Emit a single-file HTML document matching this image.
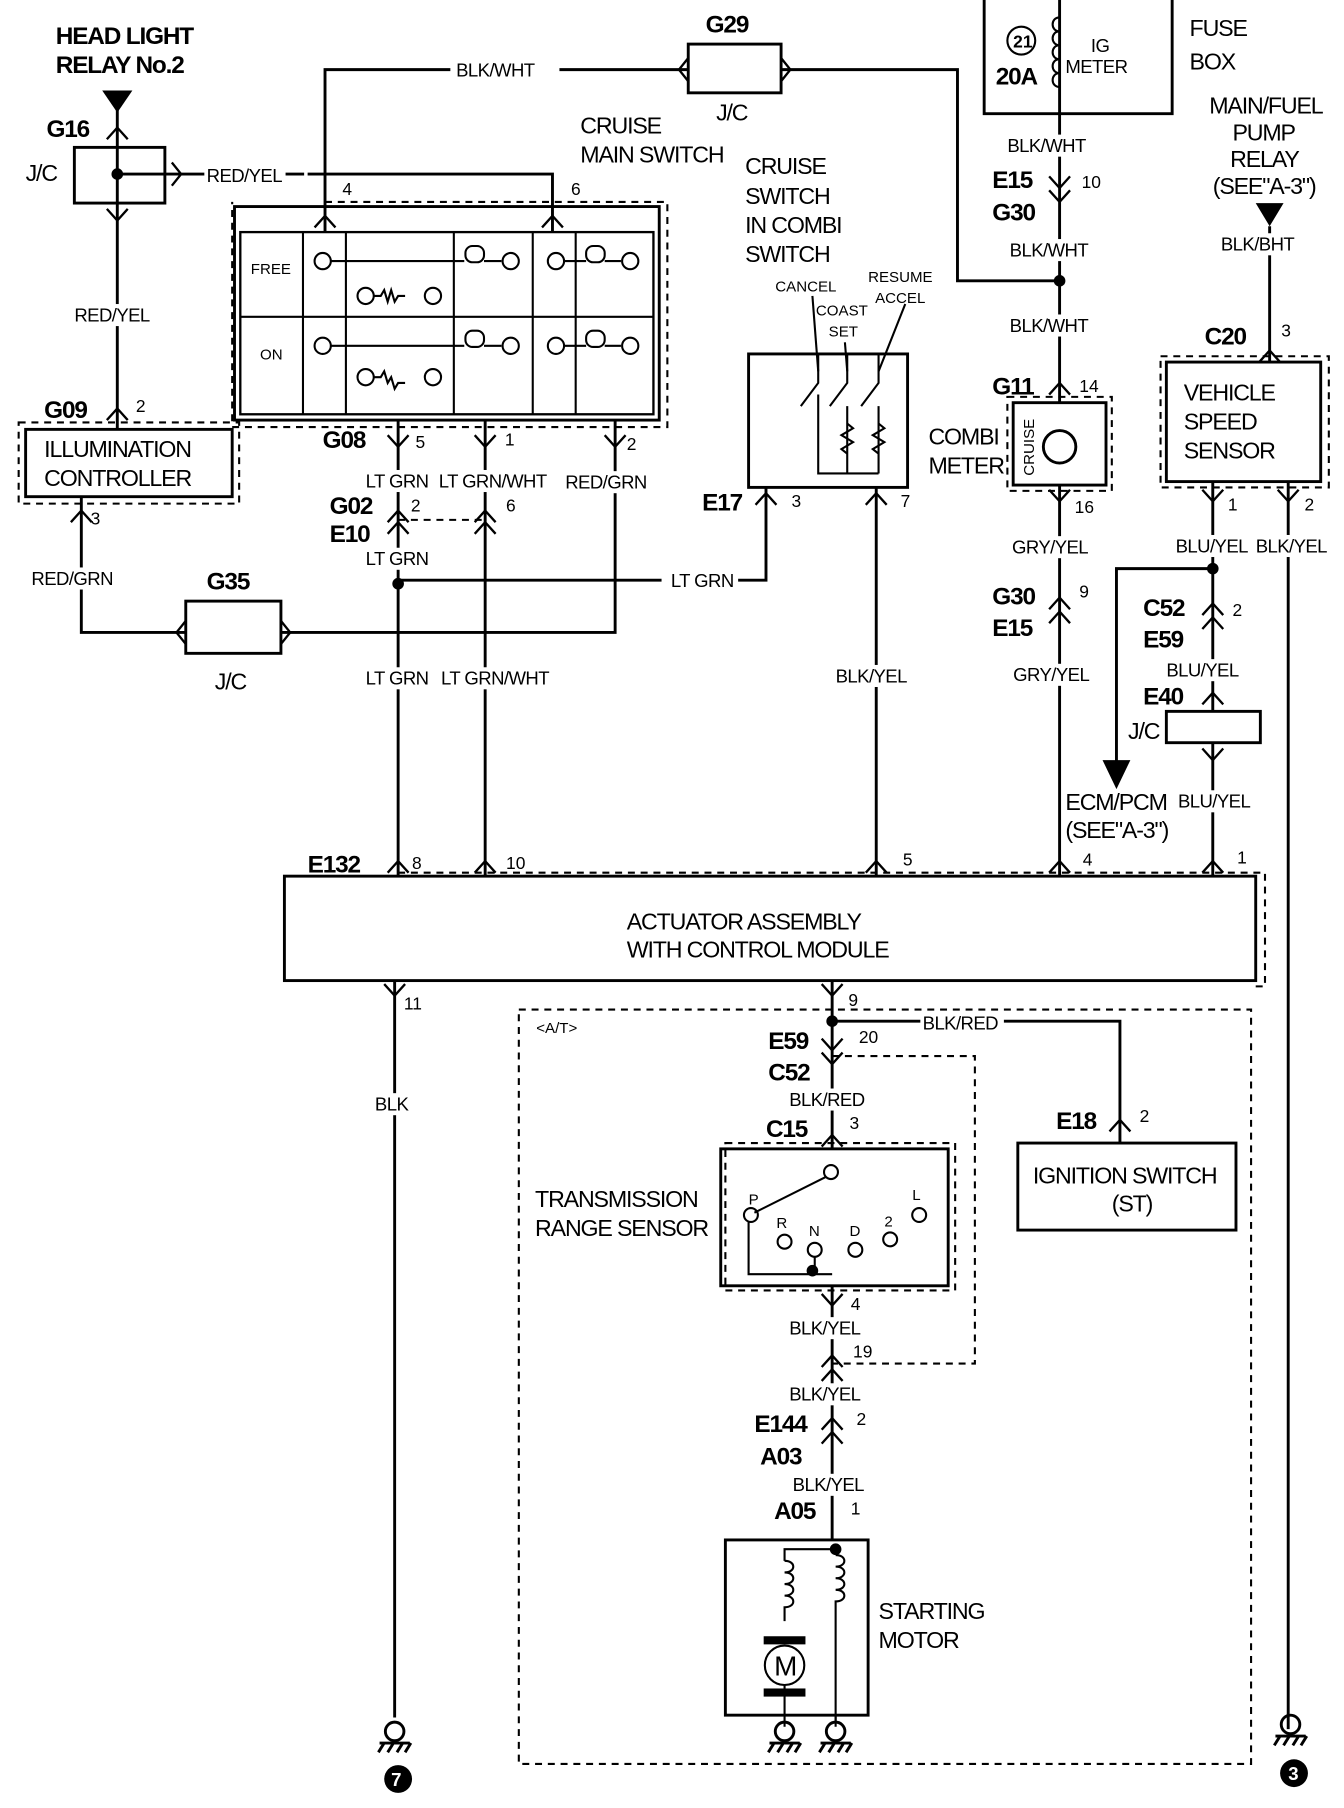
<!DOCTYPE html>
<html><head><meta charset="utf-8"><style>
html,body{margin:0;padding:0;background:#fff}
svg{display:block}
text{font-family:"Liberation Sans",sans-serif;fill:#000}
.b{font-weight:700;font-size:21px;letter-spacing:-1px}
.m{font-size:20px;letter-spacing:-1px}
.w{font-size:16px;letter-spacing:-0.5px}
.s{font-size:13px}
.n{font-size:15px}
</style></head><body>
<svg width="1344" height="1808" viewBox="0 0 1158 1558" xmlns="http://www.w3.org/2000/svg">
<defs>
<path id="up" d="M-9,10 L0,0 L9,10" fill="none" stroke="#000" stroke-width="2"/>
<path id="dn" d="M-9,-10 L0,0 L9,-10" fill="none" stroke="#000" stroke-width="2"/>
<g id="gnd" fill="none" stroke="#000" stroke-width="2.5"><circle cx="0" cy="-8" r="8"/><line x1="-13" y1="2" x2="13" y2="2"/><line x1="-9" y1="2" x2="-14" y2="10"/><line x1="-1" y1="2" x2="-6" y2="10"/><line x1="7" y1="2" x2="2" y2="10"/><line x1="14" y1="2" x2="9" y2="10"/></g>
</defs>
<g fill="none" stroke="#000" stroke-width="2.5">
<line x1="101" y1="92" x2="101" y2="370"/>
<rect x="64" y="127" width="78" height="48"/>
<line x1="101" y1="150" x2="262" y2="150"/>
<polyline points="265,150 476,150 476,200"/>
<polyline points="280,200 280,60 388,60"/>
<line x1="482" y1="60" x2="593" y2="60"/>
<rect x="593" y="38" width="80" height="42"/>
<polyline points="673,60 825,60 825,242 913,242"/>
<rect x="202" y="178" width="366" height="184"/>
<rect x="207" y="200" width="356" height="157" stroke-width="2"/>
<line x1="343" y1="362" x2="343" y2="755"/>
<line x1="418" y1="362" x2="418" y2="755"/>
<polyline points="530,362 530,545 242,545"/>
<polyline points="343,500 570,500"/>
<polyline points="636,500 660,500 660,420"/>
<rect x="160" y="518" width="82" height="45"/>
<polyline points="160,545 70,545 70,428"/>
<rect x="22" y="370" width="178" height="58"/>
<rect x="645" y="305" width="137" height="115"/>
<line x1="755" y1="420" x2="755" y2="755"/>
<polyline points="848,0 848,98 1010,98 1010,0"/>
<line x1="913" y1="0" x2="913" y2="755"/>
<rect x="873" y="347" width="80" height="71" fill="#fff"/>
<circle cx="913" cy="385" r="14"/>
<polyline points="962,660 962,490 1045,490"/>
<line x1="1045" y1="415" x2="1045" y2="755"/>
<line x1="1110" y1="415" x2="1110" y2="1490"/>
<line x1="1094" y1="195" x2="1094" y2="312"/>
<rect x="1005" y="312" width="133" height="103"/>
<rect x="1005" y="613" width="81" height="27" fill="#fff"/>
<rect x="245" y="755" width="837" height="90"/>
<line x1="340" y1="845" x2="340" y2="1480"/>
<line x1="717" y1="845" x2="717" y2="990"/>
<polyline points="717,880 965,880 965,985"/>
<rect x="877" y="985" width="188" height="75"/>
<rect x="621" y="990" width="196" height="118"/>
<line x1="717" y1="1108" x2="717" y2="1327"/>
<rect x="625" y="1327" width="123" height="151"/>
</g>
<g fill="none" stroke="#000" stroke-width="1.8" stroke-dasharray="6,5">
<polyline points="280,174 575,174 575,368 200,368 200,174"/>
<rect x="16" y="364" width="190" height="70"/>
<line x1="343" y1="448" x2="418" y2="448"/>
<rect x="868" y="342" width="90" height="81"/>
<rect x="1000" y="307" width="145" height="113"/>
<polyline points="343,752 1090,752 1090,850 1082,850"/>
<rect x="447" y="870" width="631" height="650"/>
<polyline points="717,910 840,910 840,1175 717,1175"/>
<rect x="625" y="985" width="198" height="127"/>
</g>
<g fill="#000">
<polygon points="88,78 114,78 101,97"/>
<polygon points="1082,175 1106,175 1094,195"/>
<polygon points="950,655 974,655 962,680"/>
<circle cx="101" cy="150" r="5"/>
<circle cx="913" cy="242" r="5"/>
<circle cx="343" cy="503" r="5"/>
<circle cx="1045" cy="490" r="5"/>
<circle cx="717" cy="880" r="5"/>
<circle cx="700" cy="1095" r="5"/>
<circle cx="720" cy="1335" r="5"/>
<circle cx="343" cy="1533" r="12"/>
<circle cx="1115" cy="1528" r="12"/>
</g>
<use href="#up" x="101" y="110"/><use href="#dn" x="101" y="190"/>
<use href="#up" x="280" y="186"/><use href="#up" x="476" y="186"/>
<use href="#up" x="101" y="352"/>
<use href="#dn" x="343" y="385"/><use href="#dn" x="418" y="385"/><use href="#dn" x="530" y="385"/>
<use href="#up" x="70" y="440"/>
<use href="#up" x="343" y="440"/><use href="#up" x="343" y="450"/>
<use href="#up" x="418" y="440"/><use href="#up" x="418" y="450"/>
<use href="#up" x="660" y="425"/><use href="#up" x="755" y="425"/>
<use href="#dn" x="913" y="162"/><use href="#dn" x="913" y="174"/>
<use href="#up" x="913" y="330"/><use href="#dn" x="913" y="432"/>
<use href="#up" x="913" y="515"/><use href="#up" x="913" y="527"/>
<use href="#up" x="1094" y="302"/>
<use href="#dn" x="1045" y="432"/><use href="#dn" x="1110" y="432"/>
<use href="#up" x="1045" y="520"/><use href="#up" x="1045" y="532"/>
<use href="#up" x="1045" y="597"/><use href="#dn" x="1045" y="655"/>
<use href="#up" x="343" y="742"/><use href="#up" x="418" y="742"/><use href="#up" x="755" y="742"/><use href="#up" x="913" y="742"/><use href="#up" x="1045" y="742"/>
<use href="#dn" x="340" y="858"/><use href="#dn" x="717" y="858"/>
<use href="#dn" x="717" y="905"/><use href="#dn" x="717" y="917"/>
<use href="#up" x="965" y="965"/><use href="#up" x="717" y="978"/>
<use href="#dn" x="717" y="1125"/>
<use href="#up" x="717" y="1168"/><use href="#up" x="717" y="1180"/>
<use href="#up" x="717" y="1222"/><use href="#up" x="717" y="1234"/>
<path d="M148,140 L156,150 L148,160 M593,50 L585,60 L593,70 M673,50 L681,60 L673,70 M160,535 L152,545 L160,555 M242,535 L250,545 L242,555" fill="none" stroke="#000" stroke-width="2"/>
<g fill="none" stroke="#000" stroke-width="1.8">
<line x1="261" y1="200" x2="261" y2="357"/><line x1="298" y1="200" x2="298" y2="357"/><line x1="391" y1="200" x2="391" y2="357"/><line x1="459" y1="200" x2="459" y2="357"/><line x1="496" y1="200" x2="496" y2="357"/><line x1="207" y1="273" x2="563" y2="273"/>
<circle cx="278" cy="225" r="7"/><line x1="285" y1="225" x2="400" y2="225"/><rect x="401" y="212" width="16" height="14" rx="6"/><line x1="417" y1="225" x2="432" y2="225"/><circle cx="440" cy="225" r="7"/>
<circle cx="479" cy="225" r="7"/><line x1="486" y1="225" x2="505" y2="225"/><rect x="505" y="212" width="16" height="14" rx="6"/><line x1="521" y1="225" x2="535" y2="225"/><circle cx="543" cy="225" r="7"/>
<circle cx="315" cy="255" r="7"/><path d="M322,255 h6 l3,-5 l3,10 l3,-10 l3,10 l3,-5 h6"/><circle cx="373" cy="255" r="7"/>
<circle cx="278" cy="298" r="7"/><line x1="285" y1="298" x2="400" y2="298"/><rect x="401" y="285" width="16" height="14" rx="6"/><line x1="417" y1="298" x2="432" y2="298"/><circle cx="440" cy="298" r="7"/>
<circle cx="479" cy="298" r="7"/><line x1="486" y1="298" x2="505" y2="298"/><rect x="505" y="285" width="16" height="14" rx="6"/><line x1="521" y1="298" x2="535" y2="298"/><circle cx="543" cy="298" r="7"/>
<circle cx="315" cy="325" r="7"/><path d="M322,325 h6 l3,-5 l3,10 l3,-5 l3,10 l3,-5 h6"/><circle cx="373" cy="325" r="7"/>
<path d="M705,305 v25 l-15,20 M730,305 v25 l-15,20 M757,305 v25 l-15,20"/>
<path d="M705,340 v68 h52 M730,350 v58 M757,350 v58"/>
<path d="M730,365 l5,4 l-10,6 l10,6 l-10,6 l5,4 M757,365 l5,4 l-10,6 l10,6 l-10,6 l5,4"/>
<line x1="700" y1="255" x2="705" y2="320"/><line x1="728" y1="295" x2="730" y2="320"/><line x1="780" y1="262" x2="757" y2="320"/>
<circle cx="880" cy="35" r="12"/>
<path d="M913,15 c-8,0 -8,12 0,12 c-8,0 -8,12 0,12 c-8,0 -8,12 0,12 c-8,0 -8,12 0,12 c-8,0 -8,12 0,12" />
<circle cx="716" cy="1010" r="6"/><line x1="712" y1="1014" x2="650" y2="1045"/>
<circle cx="647" cy="1047" r="6"/><polyline points="645,1053 645,1098 717,1098"/>
<circle cx="676" cy="1070" r="6"/><circle cx="702" cy="1077" r="6"/><line x1="702" y1="1083" x2="702" y2="1095"/><circle cx="737" cy="1077" r="6"/><circle cx="767" cy="1068" r="6"/><circle cx="792" cy="1047" r="6"/>
<polyline points="720,1335 676,1335 676,1345"/>
<path d="M676,1345 c10,0 10,10 0,10 c10,0 10,10 0,10 c10,0 10,10 0,10 c10,0 10,10 0,10 v12"/>
<path d="M720,1340 c10,0 10,10 0,10 c10,0 10,10 0,10 c10,0 10,10 0,10 c10,0 10,10 0,10 v105"/>
<circle cx="676" cy="1435" r="17"/><line x1="676" y1="1452" x2="676" y2="1488"/>
<line x1="720" y1="1478" x2="720" y2="1488"/>
</g>
<rect x="658" y="1410" width="36" height="7" fill="#000"/><rect x="658" y="1455" width="36" height="7" fill="#000"/>
<use href="#gnd" x="340" y="1500"/><use href="#gnd" x="676" y="1500"/><use href="#gnd" x="720" y="1500"/><use href="#gnd" x="1112" y="1494"/>
<g fill="#fff">
<rect x="176" y="142" width="70" height="18"/>
<rect x="62" y="262" width="72" height="19"/>
<rect x="313" y="405" width="58" height="19"/>
<rect x="376" y="405" width="96" height="19"/>
<rect x="485" y="406" width="78" height="19"/>
<rect x="313" y="472" width="58" height="19"/>
<rect x="25" y="489" width="76" height="19"/>
<rect x="313" y="575" width="58" height="19"/>
<rect x="378" y="575" width="96" height="19"/>
<rect x="718" y="573" width="70" height="19"/>
<rect x="866" y="116" width="74" height="19"/>
<rect x="868" y="206" width="74" height="19"/>
<rect x="868" y="271" width="74" height="19"/>
<rect x="870" y="462" width="72" height="19"/>
<rect x="871" y="572" width="72" height="19"/>
<rect x="1050" y="201" width="74" height="19"/>
<rect x="1011" y="461" width="68" height="19"/>
<rect x="1080" y="461" width="70" height="19"/>
<rect x="1003" y="568" width="70" height="19"/>
<rect x="1013" y="681" width="70" height="19"/>
<rect x="793" y="872" width="72" height="19"/>
<rect x="321" y="942" width="36" height="19"/>
<rect x="678" y="938" width="72" height="19"/>
<rect x="678" y="1135" width="70" height="19"/>
<rect x="678" y="1192" width="70" height="19"/>
<rect x="681" y="1270" width="70" height="19"/>
</g>
<text class="b" x="48" y="38">HEAD LIGHT</text><text class="b" x="48" y="63">RELAY No.2</text>
<text class="b" x="40" y="118">G16</text><text class="m" x="22" y="156">J/C</text>
<text class="w" x="178" y="157">RED/YEL</text>
<text class="w" x="393" y="66">BLK/WHT</text>
<text class="b" x="608" y="28">G29</text><text class="m" x="617" y="104">J/C</text>
<text class="m" x="500" y="115">CRUISE</text><text class="m" x="500" y="140">MAIN SWITCH</text>
<text class="n" x="295" y="168">4</text><text class="n" x="492" y="168">6</text>
<text class="s" x="216" y="236">FREE</text><text class="s" x="224" y="310">ON</text>
<text class="w" x="64" y="277">RED/YEL</text>
<text class="b" x="38" y="360">G09</text><text class="n" x="117" y="355">2</text>
<text class="m" x="38" y="394">ILLUMINATION</text><text class="m" x="38" y="419">CONTROLLER</text>
<text class="b" x="278" y="386">G08</text><text class="n" x="358" y="386">5</text><text class="n" x="435" y="384">1</text><text class="n" x="540" y="388">2</text>
<text class="w" x="315" y="420">LT GRN</text><text class="w" x="378" y="420">LT GRN/WHT</text><text class="w" x="487" y="421">RED/GRN</text>
<text class="b" x="284" y="443">G02</text><text class="b" x="284" y="467">E10</text><text class="n" x="354" y="441">2</text><text class="n" x="436" y="441">6</text>
<text class="w" x="315" y="487">LT GRN</text><text class="n" x="78" y="452">3</text>
<text class="w" x="27" y="504">RED/GRN</text><text class="b" x="178" y="508">G35</text><text class="m" x="185" y="594">J/C</text>
<text class="w" x="578" y="506">LT GRN</text>
<text class="w" x="315" y="590">LT GRN</text><text class="w" x="380" y="590">LT GRN/WHT</text>
<text class="m" x="642" y="150">CRUISE</text><text class="m" x="642" y="176">SWITCH</text><text class="m" x="642" y="201">IN COMBI</text><text class="m" x="642" y="226">SWITCH</text>
<text class="s" x="668" y="251">CANCEL</text><text class="s" x="748" y="243">RESUME</text><text class="s" x="703" y="272">COAST</text><text class="s" x="754" y="261">ACCEL</text><text class="s" x="714" y="290">SET</text>
<text class="b" x="605" y="440">E17</text><text class="n" x="682" y="437">3</text><text class="n" x="776" y="437">7</text>
<text class="w" x="720" y="588">BLK/YEL</text>
<text class="n" x="873" y="41" font-weight="700">21</text><text class="b" x="858" y="73">20A</text>
<text class="w" x="940" y="45">IG</text><text class="w" x="918" y="63">METER</text>
<text class="m" x="1025" y="31">FUSE</text><text class="m" x="1025" y="60">BOX</text>
<text class="w" x="868" y="131">BLK/WHT</text>
<text class="b" x="855" y="162">E15</text><text class="b" x="855" y="190">G30</text><text class="n" x="932" y="162">10</text>
<text class="w" x="870" y="221">BLK/WHT</text><text class="w" x="870" y="286">BLK/WHT</text>
<text class="b" x="855" y="340">G11</text><text class="n" x="930" y="338">14</text>
<text class="s" x="891" y="410" transform="rotate(-90 891 410)">CRUISE</text>
<text class="m" x="800" y="383">COMBI</text><text class="m" x="800" y="408">METER</text>
<text class="n" x="926" y="442">16</text>
<text class="w" x="872" y="477">GRY/YEL</text>
<text class="b" x="855" y="521">G30</text><text class="b" x="855" y="548">E15</text><text class="n" x="930" y="515">9</text>
<text class="w" x="873" y="587">GRY/YEL</text>
<text class="m" x="918" y="698">ECM/PCM</text><text class="m" x="918" y="722">(SEE"A-3")</text>
<text class="m" x="1042" y="98">MAIN/FUEL</text><text class="m" x="1062" y="121">PUMP</text><text class="m" x="1060" y="144">RELAY</text><text class="m" x="1045" y="167">(SEE"A-3")</text>
<text class="w" x="1052" y="216">BLK/BHT</text>
<text class="b" x="1038" y="297">C20</text><text class="n" x="1104" y="290">3</text>
<text class="m" x="1020" y="345" font-size="22">VEHICLE</text><text class="m" x="1020" y="370" font-size="22">SPEED</text><text class="m" x="1020" y="395" font-size="22">SENSOR</text>
<text class="n" x="1058" y="440">1</text><text class="n" x="1124" y="440">2</text>
<text class="w" x="1013" y="476">BLU/YEL</text><text class="w" x="1082" y="476">BLK/YEL</text>
<text class="b" x="985" y="531">C52</text><text class="b" x="985" y="558">E59</text><text class="n" x="1062" y="531">2</text>
<text class="w" x="1005" y="583">BLU/YEL</text><text class="b" x="985" y="607">E40</text><text class="m" x="972" y="637">J/C</text>
<text class="w" x="1015" y="696">BLU/YEL</text>
<text class="b" x="265" y="752">E132</text>
<text class="n" x="355" y="749">8</text><text class="n" x="436" y="749">10</text><text class="n" x="778" y="746">5</text><text class="n" x="933" y="746">4</text><text class="n" x="1066" y="744">1</text>
<text class="m" x="540" y="801">ACTUATOR ASSEMBLY</text><text class="m" x="540" y="825">WITH CONTROL MODULE</text>
<text class="n" x="348" y="870">11</text><text class="n" x="731" y="867">9</text>
<text class="s" x="462" y="890">&lt;A/T&gt;</text>
<text class="w" x="795" y="887">BLK/RED</text>
<text class="w" x="323" y="957">BLK</text>
<text class="b" x="662" y="904">E59</text><text class="b" x="662" y="931">C52</text><text class="n" x="740" y="899">20</text>
<text class="w" x="680" y="953">BLK/RED</text>
<text class="b" x="660" y="980">C15</text><text class="n" x="732" y="973">3</text>
<text class="b" x="910" y="973">E18</text><text class="n" x="982" y="967">2</text>
<text class="m" x="890" y="1020">IGNITION SWITCH</text><text class="m" x="958" y="1044">(ST)</text>
<text class="m" x="461" y="1040">TRANSMISSION</text><text class="m" x="461" y="1065">RANGE SENSOR</text>
<text class="s" x="645" y="1038">P</text><text class="s" x="669" y="1058">R</text><text class="s" x="697" y="1065">N</text><text class="s" x="732" y="1065">D</text><text class="s" x="762" y="1057">2</text><text class="s" x="786" y="1034">L</text>
<text class="n" x="733" y="1129">4</text>
<text class="w" x="680" y="1150">BLK/YEL</text><text class="n" x="735" y="1170">19</text>
<text class="w" x="680" y="1207">BLK/YEL</text>
<text class="b" x="650" y="1234">E144</text><text class="b" x="655" y="1262">A03</text><text class="n" x="738" y="1228">2</text>
<text class="w" x="683" y="1285">BLK/YEL</text>
<text class="b" x="667" y="1309">A05</text><text class="n" x="733" y="1305">1</text>
<text class="m" x="757" y="1395">STARTING</text><text class="m" x="757" y="1420">MOTOR</text>
<text x="667" y="1444" font-size="24">M</text>
<text x="337" y="1539" font-size="16" style="fill:#fff" font-weight="700">7</text>
<text x="1110" y="1534" font-size="16" style="fill:#fff" font-weight="700">3</text>
</svg>
</body></html>
